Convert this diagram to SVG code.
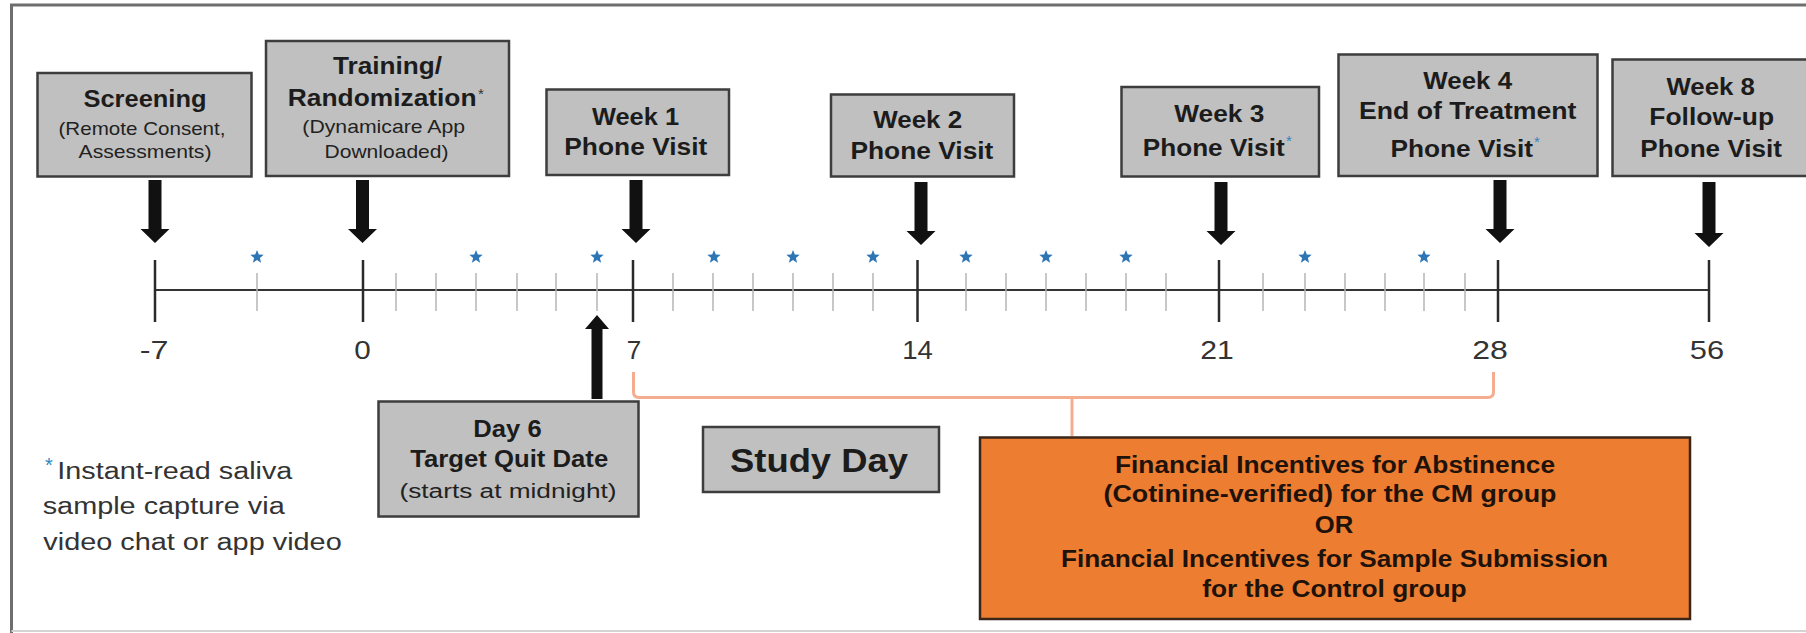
<svg xmlns="http://www.w3.org/2000/svg" xmlns:xlink="http://www.w3.org/1999/xlink" width="1806" height="633" viewBox="0 0 1806 633">
<style>
.box{fill:#c0c0c0;stroke:#3d3d3d;stroke-width:2.5}
.orange{fill:#ed7d31;stroke:#3a2618;stroke-width:2.5}
text{font-family:"Liberation Sans",Arial,sans-serif}
.c{text-anchor:middle}
.b{font-weight:bold;font-size:23px;fill:#1c1c1c}
.s{font-size:19px;fill:#222}
.lbl{font-size:26px;fill:#333;text-anchor:middle}
.fn{font-size:23px;fill:#333}
.ob{font-weight:bold;font-size:23px;fill:#1e120a;text-anchor:middle}
.ast{fill:#2e86c1}
.axis{stroke:#333;stroke-width:2}
.major{stroke:#2a2a2a;stroke-width:2.5}
.minor{stroke:#b4b4b4;stroke-width:1.5}
.arrow{fill:#111}
.star{fill:#2e75b6}
.brace{fill:none;stroke:#f4ae8f;stroke-width:3}
</style>
<defs>
<path id="star" d="M0,-7 L1.8,-2.45 L6.66,-2.16 L2.88,0.93 L4.12,5.66 L0,3.03 L-4.12,5.66 L-2.88,0.93 L-6.66,-2.16 L-1.8,-2.45 Z"/>
</defs>
<rect x="0" y="0" width="1806" height="633" fill="#fff"/>
<g id="frame">
<path d="M11.5,633 V5 H1806" fill="none" stroke="#6e6e6e" stroke-width="3"/>
<path d="M11.5,631 H1806" fill="none" stroke="#d4d4d4" stroke-width="2"/>
</g>
<g id="timeline">
<line class="axis" x1="155" y1="290" x2="1709" y2="290"/>
<g class="minor">
<line x1="257" y1="273" x2="257" y2="311"/>
<line x1="396" y1="273" x2="396" y2="311"/>
<line x1="436" y1="273" x2="436" y2="311"/>
<line x1="476" y1="273" x2="476" y2="311"/>
<line x1="517" y1="273" x2="517" y2="311"/>
<line x1="556" y1="273" x2="556" y2="311"/>
<line x1="597" y1="273" x2="597" y2="311"/>
<line x1="673" y1="273" x2="673" y2="311"/>
<line x1="713" y1="273" x2="713" y2="311"/>
<line x1="753" y1="273" x2="753" y2="311"/>
<line x1="793" y1="273" x2="793" y2="311"/>
<line x1="833" y1="273" x2="833" y2="311"/>
<line x1="873" y1="273" x2="873" y2="311"/>
<line x1="966" y1="273" x2="966" y2="311"/>
<line x1="1006" y1="273" x2="1006" y2="311"/>
<line x1="1046" y1="273" x2="1046" y2="311"/>
<line x1="1086" y1="273" x2="1086" y2="311"/>
<line x1="1126" y1="273" x2="1126" y2="311"/>
<line x1="1166" y1="273" x2="1166" y2="311"/>
<line x1="1263" y1="273" x2="1263" y2="311"/>
<line x1="1305" y1="273" x2="1305" y2="311"/>
<line x1="1345" y1="273" x2="1345" y2="311"/>
<line x1="1385" y1="273" x2="1385" y2="311"/>
<line x1="1424" y1="273" x2="1424" y2="311"/>
<line x1="1465" y1="273" x2="1465" y2="311"/>
</g>
<g class="major">
<line x1="155" y1="260" x2="155" y2="322"/>
<line x1="363" y1="260" x2="363" y2="322"/>
<line x1="633" y1="260" x2="633" y2="322"/>
<line x1="917.5" y1="260" x2="917.5" y2="322"/>
<line x1="1219" y1="260" x2="1219" y2="322"/>
<line x1="1498" y1="260" x2="1498" y2="322"/>
<line x1="1709" y1="260" x2="1709" y2="322"/>
</g>
<g class="star">
<use xlink:href="#star" x="257" y="257"/>
<use xlink:href="#star" x="476" y="257"/>
<use xlink:href="#star" x="597" y="257"/>
<use xlink:href="#star" x="714" y="257"/>
<use xlink:href="#star" x="793" y="257"/>
<use xlink:href="#star" x="873" y="257"/>
<use xlink:href="#star" x="966" y="257"/>
<use xlink:href="#star" x="1046" y="257"/>
<use xlink:href="#star" x="1126" y="257"/>
<use xlink:href="#star" x="1305" y="257"/>
<use xlink:href="#star" x="1424" y="257"/>
</g>
<text class="lbl" x="154" y="359" textLength="28.7" lengthAdjust="spacingAndGlyphs">-7</text>
<text class="lbl" x="362.5" y="359" textLength="16.5" lengthAdjust="spacingAndGlyphs">0</text>
<text class="lbl" x="634" y="359" textLength="14.5" lengthAdjust="spacingAndGlyphs">7</text>
<text class="lbl" x="917.6" y="359" textLength="30.6" lengthAdjust="spacingAndGlyphs">14</text>
<text class="lbl" x="1217" y="359" textLength="33.5" lengthAdjust="spacingAndGlyphs">21</text>
<text class="lbl" x="1490" y="359" textLength="35.6" lengthAdjust="spacingAndGlyphs">28</text>
<text class="lbl" x="1707" y="359" textLength="34.3" lengthAdjust="spacingAndGlyphs">56</text>
</g>
<g id="connectors">
<path class="arrow" d="M148.5,180 H161.5 V229 H169.5 L155,243 L140.5,229 H148.5 Z"/>
<path class="arrow" d="M356,180 H369 V229 H377 L362.5,243 L348,229 H356 Z"/>
<path class="arrow" d="M629.5,180 H642.5 V229 H650.5 L636,243 L621.5,229 H629.5 Z"/>
<path class="arrow" d="M914.5,182 H927.5 V231 H935.5 L921,245 L906.5,231 H914.5 Z"/>
<path class="arrow" d="M1214.5,182 H1227.5 V231 H1235.5 L1221,245 L1206.5,231 H1214.5 Z"/>
<path class="arrow" d="M1493.5,180 H1506.5 V229 H1514.5 L1500,243 L1485.5,229 H1493.5 Z"/>
<path class="arrow" d="M1702.5,182 H1715.5 V233 H1723.5 L1709,247 L1694.5,233 H1702.5 Z"/>
<path class="arrow" d="M591.5,399 H602.5 V329 H609 L597,315 L585,329 H591.5 Z"/>
<path class="brace" d="M633.5,372 V392 Q633.5,397.5 639,397.5 H1488 Q1493.5,397.5 1493.5,392 V372"/>
<path class="brace" d="M1072,397.5 V436"/>
</g>
<g id="screening">
<rect class="box" x="37.5" y="73" width="214" height="103.5"/>
<text class="b c" x="145" y="106.5" textLength="123" lengthAdjust="spacingAndGlyphs">Screening</text>
<text class="s c" x="142" y="135" textLength="167" lengthAdjust="spacingAndGlyphs">(Remote Consent,</text>
<text class="s c" x="145" y="158" textLength="133" lengthAdjust="spacingAndGlyphs">Assessments)</text>
</g>
<g id="training">
<rect class="box" x="266" y="41" width="243" height="135"/>
<text class="b c" x="387.5" y="74" textLength="109" lengthAdjust="spacingAndGlyphs">Training/</text>
<text class="b c" x="382.2" y="106" textLength="188.7" lengthAdjust="spacingAndGlyphs">Randomization</text>
<text x="478" y="99" font-size="15" fill="#333">*</text>
<text class="s c" x="383.7" y="133" textLength="162.7" lengthAdjust="spacingAndGlyphs">(Dynamicare App</text>
<text class="s c" x="386.5" y="158" textLength="124" lengthAdjust="spacingAndGlyphs">Downloaded)</text>
</g>
<g id="day6">
<rect class="box" x="378.5" y="401.5" width="260" height="115"/>
<text class="b c" x="507.5" y="436.5" textLength="68.3" lengthAdjust="spacingAndGlyphs">Day 6</text>
<text class="b c" x="509.2" y="466.5" textLength="198" lengthAdjust="spacingAndGlyphs">Target Quit Date</text>
<text class="c" x="508" y="498" font-size="20" fill="#222" textLength="217" lengthAdjust="spacingAndGlyphs">(starts at midnight)</text>
</g>
<g id="week1">
<rect class="box" x="546.5" y="89.5" width="182.5" height="85.5"/>
<text class="b c" x="635.5" y="125" textLength="87" lengthAdjust="spacingAndGlyphs">Week 1</text>
<text class="b c" x="635.8" y="155" textLength="143" lengthAdjust="spacingAndGlyphs">Phone Visit</text>
</g>
<g id="week2">
<rect class="box" x="831" y="94.5" width="183" height="82"/>
<text class="b c" x="917.7" y="128.3" textLength="89" lengthAdjust="spacingAndGlyphs">Week 2</text>
<text class="b c" x="921.9" y="159" textLength="143" lengthAdjust="spacingAndGlyphs">Phone Visit</text>
</g>
<g id="week3">
<rect class="box" x="1121.5" y="87" width="197.5" height="89.5"/>
<text class="b c" x="1219.3" y="121.5" textLength="90" lengthAdjust="spacingAndGlyphs">Week 3</text>
<text class="b c" x="1213.7" y="156" textLength="141.8" lengthAdjust="spacingAndGlyphs">Phone Visit</text>
<text class="ast" x="1286" y="146" font-size="15">*</text>
</g>
<g id="week4">
<rect class="box" x="1338.5" y="54.5" width="259" height="121.5"/>
<text class="b c" x="1467.7" y="89.3" textLength="88.7" lengthAdjust="spacingAndGlyphs">Week 4</text>
<text class="b c" x="1467.7" y="119.3" textLength="217.5" lengthAdjust="spacingAndGlyphs">End of Treatment</text>
<text class="b c" x="1461.7" y="156.7" textLength="142.6" lengthAdjust="spacingAndGlyphs">Phone Visit</text>
<text class="ast" x="1534" y="147" font-size="15">*</text>
</g>
<g id="week8">
<rect class="box" x="1612.5" y="59.5" width="200" height="116.5"/>
<text class="b c" x="1710.7" y="95" textLength="88.6" lengthAdjust="spacingAndGlyphs">Week 8</text>
<text class="b c" x="1711.7" y="125" textLength="124.7" lengthAdjust="spacingAndGlyphs">Follow-up</text>
<text class="b c" x="1711.2" y="156.7" textLength="141.7" lengthAdjust="spacingAndGlyphs">Phone Visit</text>
</g>
<g id="study-day">
<rect class="box" x="703" y="427" width="236" height="65"/>
<text class="c" x="819" y="471.5" font-size="33" font-weight="bold" fill="#1c1c1c" textLength="178" lengthAdjust="spacingAndGlyphs">Study Day</text>
</g>
<g id="incentives">
<rect class="orange" x="980" y="437.5" width="710" height="181.5"/>
<text class="ob" x="1335" y="473.3" textLength="440" lengthAdjust="spacingAndGlyphs">Financial Incentives for Abstinence</text>
<text class="ob" x="1330" y="501.7" textLength="453" lengthAdjust="spacingAndGlyphs">(Cotinine-verified) for the CM group</text>
<text class="ob" x="1334" y="533.3" textLength="38.5" lengthAdjust="spacingAndGlyphs">OR</text>
<text class="ob" x="1334.5" y="566.7" textLength="547" lengthAdjust="spacingAndGlyphs">Financial Incentives for Sample Submission</text>
<text class="ob" x="1334.5" y="596.7" textLength="264.4" lengthAdjust="spacingAndGlyphs">for the Control group</text>
</g>
<g id="footnote">
<text class="ast" x="45" y="472" font-size="20">*</text>
<text class="fn" x="57.3" y="479.3" textLength="235" lengthAdjust="spacingAndGlyphs">Instant-read saliva</text>
<text class="fn" x="42.7" y="514" textLength="242" lengthAdjust="spacingAndGlyphs">sample capture via</text>
<text class="fn" x="43.3" y="550" textLength="298.4" lengthAdjust="spacingAndGlyphs">video chat or app video</text>
</g>
</svg>
